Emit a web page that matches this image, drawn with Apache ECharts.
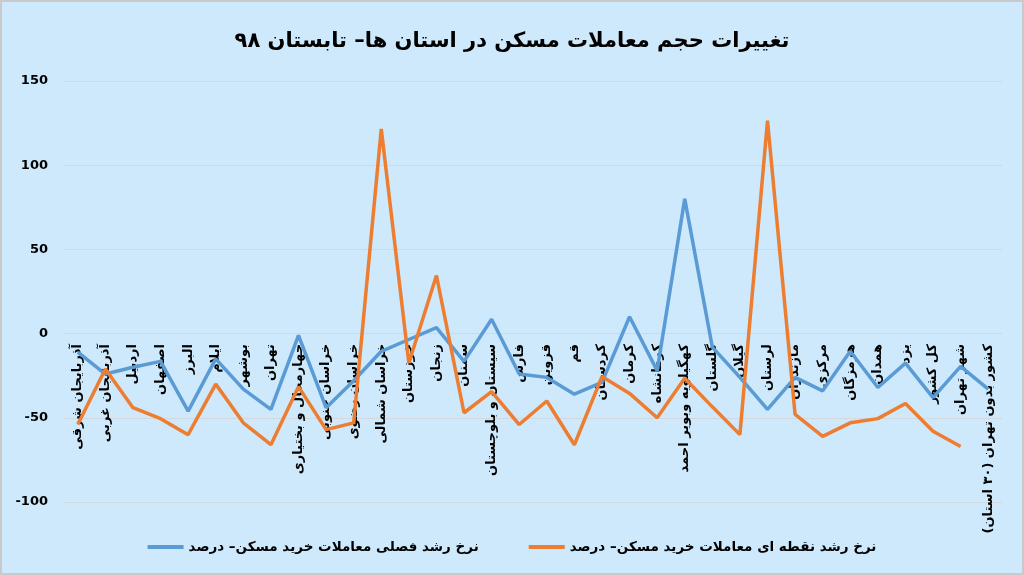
<!DOCTYPE html>
<html>
<head>
<meta charset="utf-8">
<script src="https://cdn.jsdelivr.net/npm/echarts@6/dist/echarts.min.js"></script>
<style>
html,body{margin:0;padding:0;background:#ffffff;}
#chart{position:absolute;left:0;top:0;width:1020px;height:571px;border:2px solid #c9c9c9;background:#cde9fb;}
</style>
</head>
<body>
<div id="chart"></div>
<script>
const categories = [
  'آذربایجان شرقی','آذربایجان غربی','اردبیل','اصفهان','البرز','ایلام','بوشهر','تهران',
  'چهارمحال و بختیاری','خراسان جنوبی','خراسان رضوی','خراسان شمالی','خوزستان','زنجان','سمنان',
  'سیستان و بلوچستان','فارس','قزوین','قم','کردستان','کرمان','کرمانشاه','کهگیلویه وبویر احمد',
  'گلستان','گیلان','لرستان','مازندران','مرکزی','هرمزگان','همدان','یزد','کل کشور','شهر تهران',
  'کشور بدون تهران (۳۰ استان)\u200F'
];
const seasonalGrowth = [
  -11, -24, -20, -16.5, -46, -15, -33, -45, -1, -44, -28, -10.5, -3.5, 3.5, -16.5, 8.5,
  -24, -26, -36, -29, 10, -22, 80, -8, -26, -45, -26, -34, -10.5, -32, -17.5, -38, -19.5, -33
];
const yearlyGrowth = [
  -54, -21, -44, -50.5, -60, -30, -53, -66, -31.5, -57, -53, 121.5, -17.5, 34.5, -47, -34.5,
  -54, -40, -66, -25.5, -35.5, -50, -26.5, -43.5, -60, 126.5, -48, -61, -53, -50.5, -41.5, -58, -67, null
];
const yTicks = { min: -100, max: 150, interval: 50 };
const titleText = 'تغییرات حجم معاملات مسکن در استان ها– تابستان ۹۸';
const seriesNames = ['نرخ رشد فصلی معاملات خرید مسکن– درصد', 'نرخ رشد نقطه ای معاملات خرید مسکن– درصد'];

const chart = echarts.init(document.getElementById('chart'));
chart.setOption({
  backgroundColor: '#cde9fb',
  animation: false,
  title: {
    text: titleText,
    left: 'center',
    top: 24,
    textStyle: { fontFamily: 'DejaVu Sans', fontWeight: 'bold', fontSize: 21, color: '#000' }
  },
  legend: {
    bottom: 14,
    left: 'center',
    itemGap: 50,
    itemWidth: 36,
    itemHeight: 4,
    icon: 'rect',
    textStyle: { fontFamily: 'DejaVu Sans', fontWeight: 'bold', fontSize: 13.5, color: '#000' },
    data: seriesNames
  },
  grid: { left: 62, right: 20, top: 79, bottom: 71, containLabel: false, outerBoundsMode: 'none' },
  xAxis: {
    type: 'category',
    data: categories,
    boundaryGap: true,
    axisLine: { show: false, onZero: true },
    axisTick: { show: false },
    axisLabel: {
      interval: 0,
      rotate: 90,
      margin: -158,
      fontFamily: 'DejaVu Sans',
      fontWeight: 'bold',
      fontSize: 13,
      color: '#000'
    },
    splitLine: { show: false }
  },
  yAxis: {
    type: 'value',
    min: yTicks.min,
    max: yTicks.max,
    interval: yTicks.interval,
    axisLine: { show: false },
    axisTick: { show: false },
    axisLabel: { margin: 16, fontFamily: 'DejaVu Sans', fontWeight: 'bold', fontSize: 13, color: '#000' },
    splitLine: { show: true, lineStyle: { color: '#d4d8dc', width: 1 } }
  },
  series: [
    {
      name: seriesNames[0],
      type: 'line',
      data: seasonalGrowth,
      symbol: 'none',
      z: 3,
      lineStyle: { color: '#5b9bd5', width: 3.5 },
      itemStyle: { color: '#5b9bd5' }
    },
    {
      name: seriesNames[1],
      type: 'line',
      data: yearlyGrowth,
      symbol: 'none',
      z: 3,
      lineStyle: { color: '#ed7d31', width: 3.5 },
      itemStyle: { color: '#ed7d31' }
    }
  ]
});
</script>
</body>
</html>
